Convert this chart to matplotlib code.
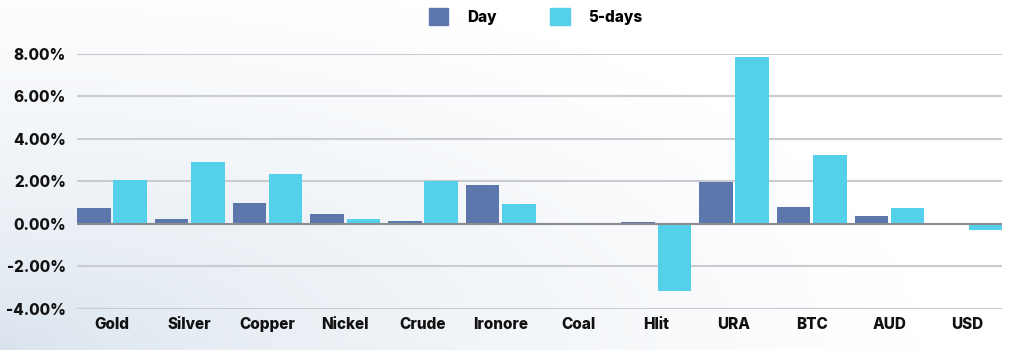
import numpy as np
import matplotlib
matplotlib.use("Agg")
import matplotlib.pyplot as plt
from matplotlib.patches import Patch
from matplotlib.ticker import FuncFormatter

categories = ["Gold", "Silver", "Copper", "Nickel", "Crude", "Ironore",
              "Coal", "Hlit", "URA", "BTC", "AUD", "USD"]
day = [0.74, 0.22, 1.00, 0.48, 0.14, 1.83, 0.0, 0.10, 1.97, 0.80, 0.39, 0.0]
five_days = [2.07, 2.90, 2.33, 0.23, 2.03, 0.95, 0.0, -3.13, 7.84, 3.22, 0.74, -0.28]
y_ticks = [-4, -2, 0, 2, 4, 6, 8]

COLOR_DAY = "#5B77AB"
COLOR_5D = "#54D0EA"

plt.rcParams['font.family'] = ['Inter', 'DejaVu Sans']
plt.rcParams['font.weight'] = 'heavy'

fig = plt.figure(figsize=(10.2, 3.5), dpi=100)

# фон с градиентом
bg = fig.add_axes([0, 0, 1, 1], zorder=-10)
gx, gy = np.meshgrid(np.linspace(0, 1, 300), np.linspace(0, 1, 120))
d = np.clip(np.sqrt((gx / 0.9) ** 2 + (gy / 1.1) ** 2), 0, 1)
c0 = np.array([0.85, 0.89, 0.93])
c1 = np.array([1.0, 1.0, 1.0])
img = c0 + (c1 - c0) * (d[..., None] ** 0.7)
bg.imshow(img, origin="lower", aspect="auto", extent=[0, 1, 0, 1])
bg.axis("off")

ax = fig.add_axes([0.0755, 0.117, 0.907, 0.730])
ax.patch.set_alpha(0)
x = np.arange(len(categories))
w = 0.43
ax.bar(x - 0.233, day, width=w, color=COLOR_DAY, zorder=3)
ax.bar(x + 0.233, five_days, width=w, color=COLOR_5D, zorder=3)

ax.set_xlim(-0.45, 11.45)
ax.set_ylim(-4, 8)
ax.set_yticks(y_ticks)
ax.yaxis.set_major_formatter(FuncFormatter(lambda v, p: f"{v:.2f}%"))
ax.set_xticks(x)
ax.set_xticklabels(categories)
ax.tick_params(length=0, labelsize=11, colors="#111111", pad=8)
ax.tick_params(axis="x", pad=6)
for s in ax.spines.values():
    s.set_visible(False)
ax.grid(axis="y", color="#c9cbcf", linewidth=1.5, zorder=0)
ax.axhline(0, color="#8a8c90", linewidth=1.5, zorder=4)

handles = [Patch(color=COLOR_DAY, label="Day"), Patch(color=COLOR_5D, label="5-days")]
fig.legend(handles=handles, loc="center", bbox_to_anchor=(0.525, 0.953), ncol=2,
           frameon=False, fontsize=11, handlelength=1.3, handleheight=1.3,
           handletextpad=1.2, columnspacing=3.5)

fig.savefig("out.png", dpi=100)
